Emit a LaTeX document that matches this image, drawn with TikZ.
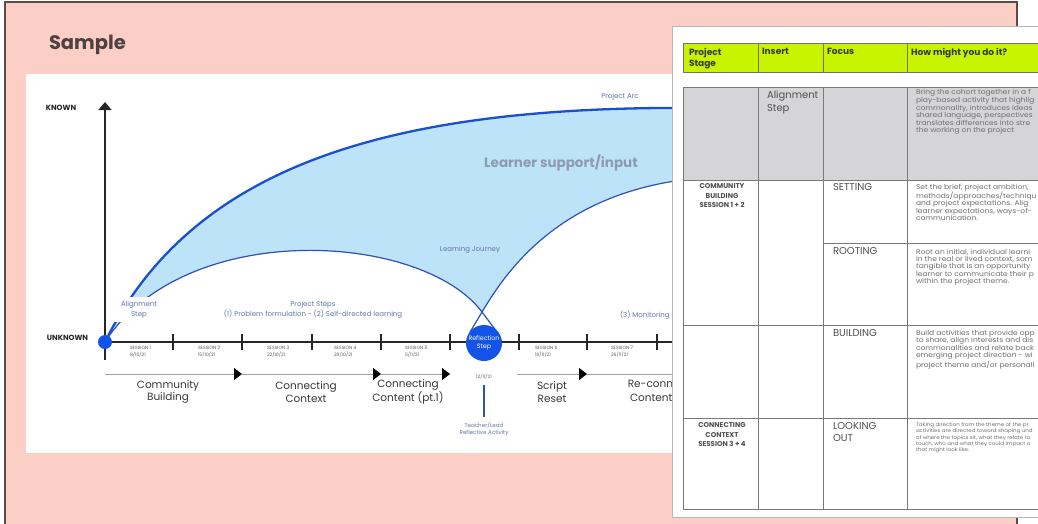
\documentclass[tikz,border=0pt]{standalone}
\usepackage{fontspec}
\setmainfont{Poppins}
\newfontfamily\widebody[FakeStretch=1.1]{Poppins}
\usetikzlibrary{arrows.meta}

\definecolor{pinkbg}{HTML}{FBCFC6}
\definecolor{frameink}{HTML}{5A4A48}
\definecolor{arcblue}{HTML}{1B4FD2}
\definecolor{pathblue}{HTML}{2C52B4}
\definecolor{fillblue}{HTML}{BDE3F8}
\definecolor{dotblue}{HTML}{1453E8}
\definecolor{labelblue}{HTML}{6274AA}
\definecolor{supportgrey}{HTML}{8D9CB2}
\definecolor{axisink}{HTML}{262626}
\definecolor{stageink}{HTML}{383838}
\definecolor{tinyink}{HTML}{5C5C5C}
\definecolor{processgrey}{HTML}{A0A0A0}
\definecolor{samplebrown}{HTML}{4E4141}
\definecolor{lime}{HTML}{C8F400}
\definecolor{rowgrey}{HTML}{D5D5D7}
\definecolor{gridgrey}{HTML}{7A7A7A}
\definecolor{bodyink}{HTML}{707070}
\definecolor{cellink}{HTML}{505050}
\definecolor{paneledge}{HTML}{B8B8B8}
\definecolor{headink}{HTML}{3A3A30}

\newcommand\fsz[2]{\fontsize{#1}{#2}\selectfont}

\begin{document}
\begin{tikzpicture}[x=1pt,y=-1pt,
  t/.style={inner sep=0pt,outer sep=0pt},
  axislabel/.style={t,font=\fsz{7.5}{9}\bfseries,text=axisink},
  bluelabel/.style={t,font=\fsz{7}{10},text=labelblue,align=center},
  session/.style={t,font=\fsz{4.6}{7},text=tinyink,align=left,anchor=north west},
  stage/.style={t,font=\fsz{10.5}{12.5},text=stageink,align=center},
  tick/.style={axisink,line width=1.5pt},
  process/.style={processgrey,line width=0.8pt},
  flowtip/.style={-{Triangle[length=8pt,width=12pt,color=black,fill=black]}},
  head/.style={t,font=\fsz{9}{11}\bfseries,text=headink,align=left,anchor=north west},
  cell/.style={t,font=\fsz{10}{12.5},text=cellink,align=left,anchor=north west},
  stagecell/.style={t,font=\fsz{7}{9.5}\bfseries,text=cellink,align=center,anchor=north},
  body/.style={t,font=\widebody\fsz{6.85}{7},text=bodyink,align=left,anchor=north west},
  smallbody/.style={t,font=\widebody\fsz{5}{5},text=bodyink,align=left,anchor=north west},
  grid/.style={gridgrey,line width=0.9pt},
]
\useasboundingbox (0,0) rectangle (1038,523);
\clip (0,0) rectangle (1038,523);
\fill[white] (0,0) rectangle (1038,523);

% slide background and frame
\fill[pinkbg] (5,2) rectangle (1017,530);
\draw[frameink,line width=1.3pt] (5,530) -- (5,2) -- (1017,2) -- (1017,530);
\node[t,anchor=west,font=\fsz{19.5}{22}\bfseries,text=samplebrown] (title) at (49,45) {Sample};

% diagram canvas
\fill[white] (26,74) rectangle (700,453);

% key points of the arcs
\coordinate (dotc) at (105,342);
\coordinate (cross) at (482,312);
\coordinate (arcend) at (700,108);
\coordinate (riseend) at (700,178);
\coordinate (fallend) at (497,332);
\coordinate (risestart) at (470,332);

% learner support band
\fill[fillblue] (dotc) .. controls (190,170) and (380,105) .. (arcend) -- (riseend)
  .. controls (560,190) and (506,272) .. (cross)
  .. controls (422,232) and (185,218) .. (dotc) -- cycle;

% project arc and learning journey
\draw[arcblue,line width=2.3pt] (dotc) .. controls (190,170) and (380,105) .. (arcend);
\draw[pathblue,line width=1.2pt] (dotc) .. controls (185,218) and (422,232) .. (cross) -- (fallend);
\draw[pathblue,line width=1.2pt] (risestart) -- (cross) .. controls (506,272) and (560,190) .. (riseend);

\node[bluelabel] (arclbl) at (620,97) {Project Arc};
\node[bluelabel] (journey) at (470,250) {Learning Journey};
\node[t,font=\fsz{13.5}{16}\bfseries,text=supportgrey] (support) at (561,163) {Learner support/input};

% axes
\draw[axisink,line width=1.6pt,-{Triangle[length=8pt,width=13pt]}] (105,360) -- (105,102);
\draw[axisink,line width=2pt] (dotc) -- (700,342);
\node[axislabel] (known) at (61,108) {KNOWN};
\node[axislabel] (unknown) at (67.5,338) {UNKNOWN};

\foreach \x in {173,242,312,381,450,519,587,657}
  \draw[tick] (\x,334) -- (\x,350);

% start label over the converging arcs
\node[bluelabel,fill=white,minimum width=54pt,minimum height=25pt] (alignstep) at (139,309.5) {Alignment\\Step};
\node[bluelabel] (steps) at (313,310) {Project Steps\\(1) Problem formulation - (2) Self-directed learning};
\node[bluelabel,anchor=west] (monitor) at (620,315) {(3) Monitoring and evaluation};

\fill[dotblue] (dotc) circle (7);

% sessions
\node[session] (s1) at (130,346.5) {SESSION 1\\8/10/21};
\node[session] (s2) at (198,346.5) {SESSION 2\\15/10/21};
\node[session] (s3) at (267,346.5) {SESSION 3\\22/10/21};
\node[session] (s4) at (334,346.5) {SESSION 4\\29/10/21};
\node[session] (s5) at (405,346.5) {SESSION 5\\5/11/21};
\node[session] (s6) at (535,346.5) {SESSION 6\\19/11/21};
\node[session] (s7) at (611,346.5) {SESSION 7\\26/11/21};

% reflection step
\node[circle,fill=dotblue,minimum size=36pt,inner sep=0pt,font=\fsz{6.3}{8},text=white,align=center] (reflect) at (484,343) {Reflection\\Step};
\node[t,font=\fsz{4.6}{6},text=tinyink] (rdate) at (484,377) {12/11/21};
\node[bluelabel,font=\fsz{5.6}{7.2}] (teacher) at (484,429) {Teacher/Lead\\Reflective Activity};
\draw[pathblue,line width=1.3pt] (rdate.south) ++(0,5) coordinate (tl) -- (teacher.north |- 0,417);

% stage flow
\coordinate (f0) at (105,374);
\coordinate (f1) at (242,374);
\coordinate (f2) at (381,374);
\coordinate (f3) at (450,374);
\coordinate (f4) at (517,374);
\coordinate (f5) at (587,374);
\coordinate (f6) at (700,374);
\draw[process,flowtip] (f0) -- (f1);
\draw[process,flowtip] (f1) -- (f2);
\draw[process,flowtip] (f2) -- (f3);
\draw[process,flowtip] (f4) -- (f5);
\draw[process] (f5) -- (f6);

\node[stage] (st1) at (168,392) {Community\\Building};
\node[stage] (st2) at (306,392) {Connecting\\Context};
\node[stage] (st3) at (408,392) {Connecting\\Content (pt.1)};
\node[stage] (st4) at (552,392) {Script\\Reset};
\node[stage] (st5) at (667,392) {Re-connecting\\Content (pt.2)};

% planning table sheet
\fill[white] (672,26) rectangle (1045,517);
\draw[paneledge,line width=1pt] (1045,26) -- (672,26) -- (672,517) -- (1045,517);
\begin{scope}
\clip (672,26) rectangle (1038,517);
% header
\fill[lime] (683,43) rectangle (1045,72);
\draw[frameink!80,line width=1pt] (1045,43) -- (683,43) -- (683,72) -- (1045,72);
\foreach \x in {758,823,907} \draw[frameink!80,line width=1pt] (\x,43) -- (\x,72);
\node[head] (hstage) at (689,48.5) {Project\\Stage};
\node[head] (hinsert) at (762,48.5) {Insert};
\node[head] (hfocus) at (827,48.5) {Focus};
\node[head] (hhow) at (911,48.5) {How might you do it?};

% body grid
\fill[rowgrey] (683,87) rectangle (1045,180);
\draw[grid] (683,87) -- (683,509);
\foreach \x in {758,823,907} \draw[grid] (\x,87) -- (\x,509);
\foreach \y in {87,180,325,418,509} \draw[grid] (683,\y) -- (1045,\y);
\draw[grid] (823,243) -- (1045,243);

% insert / focus cells
\node[cell] (calign) at (767,91) {Alignment\\Step};
\node[cell] (csetting) at (833,183.5) {SETTING};
\node[cell] (crooting) at (833,247) {ROOTING};
\node[cell] (cbuilding) at (833,329.5) {BUILDING};
\node[cell] (clooking) at (833,422) {LOOKING\\OUT};

% project stage cells
\node[stagecell] (pcomm) at (722,184) {COMMUNITY\\BUILDING\\SESSION 1 + 2};
\node[stagecell] (pconn) at (722,423) {CONNECTING\\CONTEXT\\SESSION 3 + 4};

% descriptions, as far as the sheet shows them
\node[body] (d1) at (916,89.2) {Bring the cohort together in a f\\play-based activity that highlig\\commonality, introduces ideas\\shared language, perspectives\\translates differences into stre\\the working on the project};
\node[body] (d2) at (916,184) {Set the brief, project ambition,\\methods/approaches/techniqu\\and project expectations. Alig\\learner expectations, ways-of-\\communication.};
\node[body] (d3) at (916,249) {Root an initial, individual learni\\in the real or lived context, som\\tangible that is an opportunity\\learner to communicate their p\\within the project theme.};
\node[body] (d4) at (916,330.5) {Build activities that provide opp\\to share, align interests and dis\\commonalities and relate back\\emerging project direction - wi\\project theme and/or personall};
\node[smallbody] (d5) at (916,423) {Taking direction from the theme of the pr\\activities are directed toward shaping und\\of where the topics sit, what they relate to\\touch, who and what they could impact o\\that might look like.};
\end{scope}
\end{tikzpicture}
\end{document}
